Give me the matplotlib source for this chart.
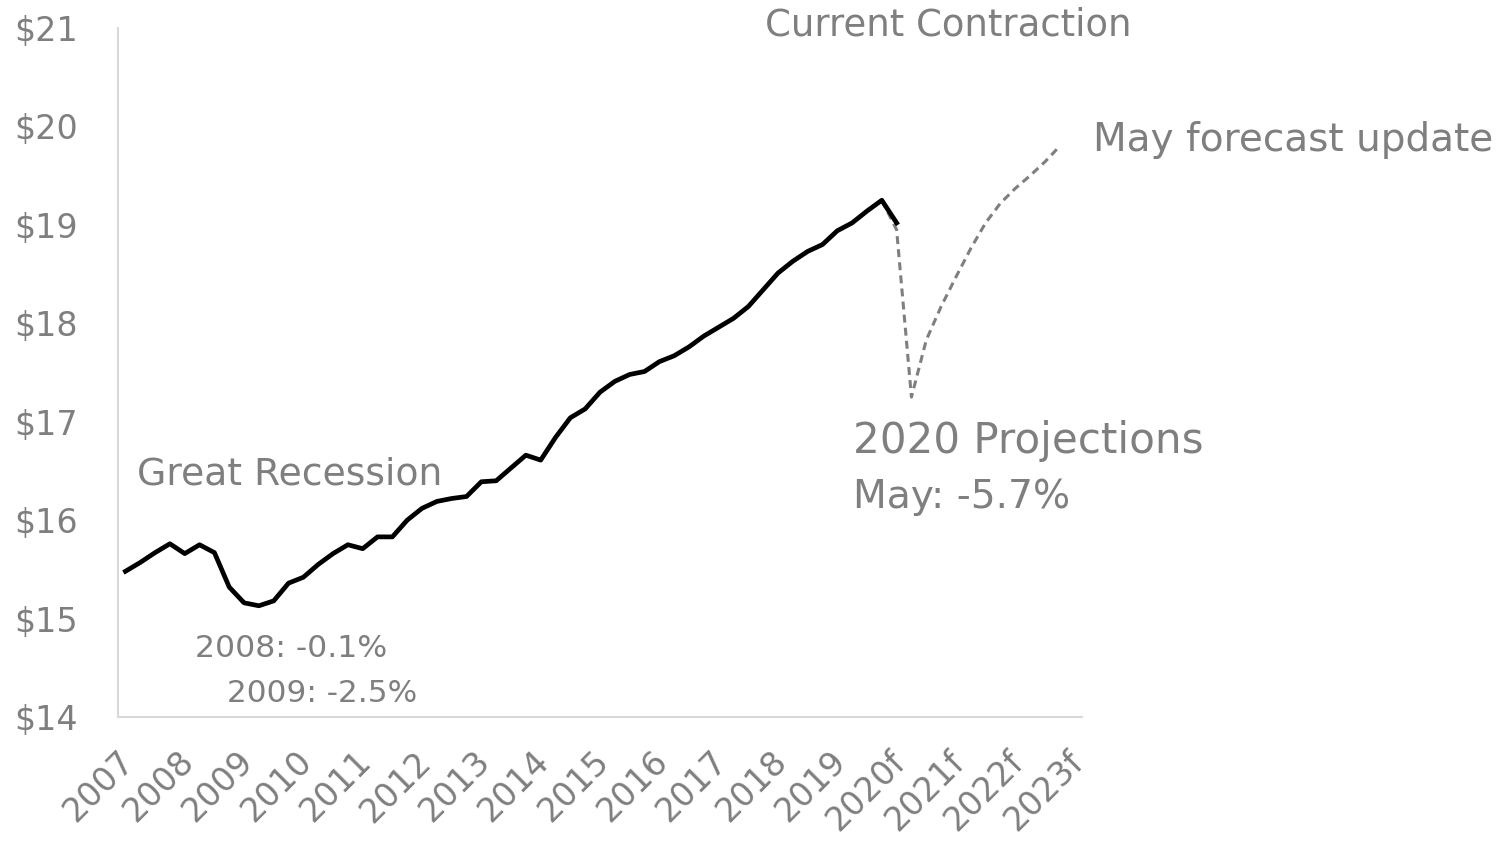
import matplotlib

matplotlib.use("Agg")
import matplotlib.pyplot as plt
from matplotlib.transforms import ScaledTranslation

plt.rcParams["font.family"] = ["DejaVu Sans"]

GREY = "#7F7F7F"
AXIS_GREY = "#D9D9D9"
W, H = 1502, 843

# quarterly categories 2007Q1 .. 2023Q1, labels only on the first quarter of each year
years = ["2007", "2008", "2009", "2010", "2011", "2012", "2013", "2014", "2015",
         "2016", "2017", "2018", "2019", "2020f", "2021f", "2022f", "2023f"]
n_quarters = 65

# real GDP, $ trillions, 2007Q1 .. 2020Q1
actual_gdp = [
    15.48, 15.57, 15.67, 15.76,
    15.66, 15.75, 15.67, 15.32,
    15.16, 15.13, 15.18, 15.36,
    15.42, 15.55, 15.66, 15.75,
    15.71, 15.83, 15.83, 16.00,
    16.12, 16.19, 16.22, 16.24,
    16.39, 16.40, 16.53, 16.66,
    16.61, 16.84, 17.04, 17.13,
    17.30, 17.41, 17.48, 17.51,
    17.61, 17.67, 17.76, 17.87,
    17.96, 18.05, 18.17, 18.34,
    18.51, 18.63, 18.73, 18.80,
    18.94, 19.02, 19.14, 19.25,
    19.02,
]
# May forecast update, 2019Q4 .. 2022Q4
forecast_start = 51
forecast_gdp = [19.25, 18.95, 17.25, 17.83, 18.17, 18.47, 18.76,
                19.02, 19.22, 19.37, 19.50, 19.64, 19.80]

y_ticks = [14, 15, 16, 17, 18, 19, 20, 21]

fig = plt.figure(figsize=(W / 100, H / 100), dpi=100)
ax = fig.add_axes([118 / W, 1 - 717 / H, (1082 - 118) / W, (717 - 28) / H])

x_actual = list(range(len(actual_gdp)))
x_fc = list(range(forecast_start, forecast_start + len(forecast_gdp)))
ax.plot(x_fc, forecast_gdp, color=GREY, lw=2.2, linestyle=(0, (2.6, 1.7)),
        dash_capstyle="butt", zorder=2)
ax.plot(x_actual, actual_gdp, color="black", lw=3.4, solid_joinstyle="round", zorder=3)

ax.set_xlim(-0.5, n_quarters - 0.5)
ax.set_ylim(14, 21)
ax.set_yticks(y_ticks)
ax.set_yticklabels([f"${v}" for v in y_ticks])
ax.set_xticks(list(range(0, n_quarters, 4)))
ax.set_xticklabels(years, rotation=45, ha="right", va="top", rotation_mode="anchor")
ax.tick_params(length=0, colors=GREY, labelsize=24)
ax.tick_params(axis="y", pad=(118 - 14) * 0.72)
for lab in ax.get_yticklabels():
    lab.set_horizontalalignment("left")
for lab in ax.get_xticklabels():
    lab.set_transform(lab.get_transform() + ScaledTranslation(-0.08, -0.23, fig.dpi_scale_trans))

for side in ["top", "right"]:
    ax.spines[side].set_visible(False)
for side in ["left", "bottom"]:
    ax.spines[side].set_color(AXIS_GREY)
    ax.spines[side].set_linewidth(1.5)

renderer = fig.canvas.get_renderer()


def fig_text(x, baseline, s, width):
    # size the text so that it spans the same width as in the reference
    t = fig.text(x / W, 1 - baseline / H, s, fontsize=20, color=GREY, va="baseline")
    w = t.get_window_extent(renderer).width
    t.set_fontsize(20 * width / w)
    return t


fig_text(765, 36, "Current Contraction", 366)
fig_text(1093, 151, "May forecast update", 400)
fig_text(853, 453, "2020 Projections", 350)
fig_text(853, 508, "May: -5.7%", 217)
fig_text(137, 484, "Great Recession", 305)
fig_text(195, 657, "2008: -0.1%", 192)
fig_text(227, 702, "2009: -2.5%", 190)

fig.savefig("out.png", dpi=100)
